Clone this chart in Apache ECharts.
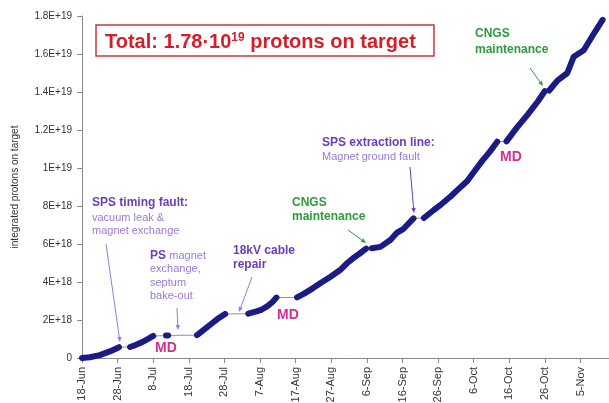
<!DOCTYPE html>
<html>
<head>
<meta charset="utf-8">
<script src="https://cdn.jsdelivr.net/npm/echarts@6/dist/echarts.min.js"></script>
<style>html,body{margin:0;padding:0;background:#fff}#c{width:609px;height:403px}</style>
</head>
<body>
<div id="c"></div>
<script>
// Days since 18-Jun (2008); null marks a break between running periods
const dayOffsets = [
  0, 2.2, 5, 8, 10.4, null,
  13.5, 15, 16.5, 18.2, 20, null,
  23.6, 24.2, null,
  32.3, 34, 36, 38, 40.2, null,
  46.7, 49, 50.5, 52, 53.5, 54.6, null,
  60.4, 62.5, 64.9, 67, 69.7, 72.5, 74.5, 76.2, 78, 79.8, null,
  81.4, 83.8, 86.6, 88.5, 90.3, 93.1, null,
  96, 98.8, 100.5, 103.5, 106, 108.2, 110, 112.5, 114.5, 116.6, null,
  119.2, 122, 125.1, 128, 130, null,
  131.2, 133.5, 136.3, 138.1, 140.9, 143.5, 146.2
];
// Integrated protons on target, in units of 1E18
const potE18 = [
  0, 0.04, 0.15, 0.36, 0.57, null,
  0.58, 0.68, 0.8, 0.97, 1.16, null,
  1.18, 1.19, null,
  1.2, 1.45, 1.75, 2.05, 2.32, null,
  2.33, 2.45, 2.55, 2.72, 2.95, 3.18, null,
  3.19, 3.4, 3.68, 3.95, 4.26, 4.63, 5.0, 5.26, 5.5, 5.76, null,
  5.78, 5.85, 6.21, 6.6, 6.8, 7.35, null,
  7.37, 7.79, 8.03, 8.5, 8.94, 9.32, 9.78, 10.4, 10.85, 11.38, null,
  11.4, 12.1, 12.8, 13.5, 14.05, null,
  14.08, 14.6, 15.0, 15.86, 16.2, 17.0, 17.8
];
const xTickLabels = ['18-Jun','28-Jun','8-Jul','18-Jul','28-Jul','7-Aug','17-Aug','27-Aug','6-Sep','16-Sep','26-Sep','6-Oct','16-Oct','26-Oct','5-Nov'];
const yTickLabels = ['0','2E+18','4E+18','6E+18','8E+18','1E+19','1.2E+19','1.4E+19','1.6E+19','1.8E+19'];

const thickData = [];
const thinData = [];
for (let i = 0; i < dayOffsets.length; i++) {
  if (dayOffsets[i] === null) { thickData.push('-'); continue; }
  const p = [dayOffsets[i], potE18[i] * 1e18];
  thickData.push(p);
  thinData.push(p);
}
const xTickValues = xTickLabels.map((_, i) => i * 10);

const purple = '#6b3db8', lightPurple = '#9a7ad6', green = '#2e9a3a', magenta = '#d6308f';

function arrow(x1, y1, x2, y2, color) {
  const a = Math.atan2(y2 - y1, x2 - x1), L = 5, W = 2.2;
  const bx = x2 - L * Math.cos(a), by = y2 - L * Math.sin(a);
  return [
    { type: 'line', shape: { x1, y1, x2: bx, y2: by }, style: { stroke: color, lineWidth: 1 }, z: 20 },
    { type: 'polygon', shape: { points: [[x2, y2], [bx - W * Math.sin(a), by + W * Math.cos(a)], [bx + W * Math.sin(a), by - W * Math.cos(a)]] }, style: { fill: color }, z: 20 }
  ];
}
function txt(x, y, text, color, size, weight) {
  return { type: 'text', x, y, style: { text, fill: color, font: (weight || 'normal') + ' ' + size + 'px "Liberation Sans", Arial, sans-serif', verticalAlign: 'middle', align: 'left' }, z: 20 };
}

const graphics = [
  { type: 'rect', shape: { x: 96, y: 25, width: 338, height: 31 }, style: { fill: '#fff', stroke: '#c8383c', lineWidth: 1.5 }, z: 20 },
  { type: 'text', x: 105, y: 42, z: 21, style: {
      text: '{m|Total: 1.78·10}{s|19}{m| protons on target}',
      verticalAlign: 'middle', align: 'left',
      rich: {
        m: { fill: '#d21f2b', font: 'bold 20px "Liberation Sans", Arial, sans-serif' },
        s: { fill: '#d21f2b', font: 'bold 12px "Liberation Sans", Arial, sans-serif', verticalAlign: 'top', padding: [0, 0, 8, 0] }
      } } },
  txt(92, 203, 'SPS timing fault:', purple, 12, 'bold'),
  txt(92, 217.5, 'vacuum leak &', lightPurple, 11),
  txt(92, 231, 'magnet exchange', lightPurple, 11),
  { type: 'text', x: 150, y: 256, z: 20, style: { text: '{b|PS} {n|magnet}', verticalAlign: 'middle',
      rich: { b: { fill: purple, font: 'bold 12px "Liberation Sans", Arial, sans-serif' }, n: { fill: lightPurple, font: '11px "Liberation Sans", Arial, sans-serif' } } } },
  txt(150, 269, 'exchange,', lightPurple, 11),
  txt(150, 282.5, 'septum', lightPurple, 11),
  txt(150, 296, 'bake-out', lightPurple, 11),
  txt(233, 251, '18kV cable', purple, 12, 'bold'),
  txt(233, 265, 'repair', purple, 12, 'bold'),
  txt(292, 203, 'CNGS', green, 12, 'bold'),
  txt(292, 217, 'maintenance', green, 12, 'bold'),
  txt(322, 142.5, 'SPS extraction line:', purple, 12, 'bold'),
  txt(322, 157, 'Magnet ground fault', lightPurple, 11),
  txt(475, 34, 'CNGS', green, 12, 'bold'),
  txt(475, 50, 'maintenance', green, 12, 'bold'),
  txt(155, 348, 'MD', magenta, 14, 'bold'),
  txt(277, 315, 'MD', magenta, 14, 'bold'),
  txt(500, 157.5, 'MD', magenta, 14, 'bold'),
  ...arrow(106, 244, 120, 342, lightPurple),
  ...arrow(177, 308, 178, 330, lightPurple),
  ...arrow(252, 277, 239, 312, lightPurple),
  ...arrow(348, 230, 366, 243, green),
  ...arrow(410, 167, 414, 213, purple),
  ...arrow(530, 68, 543, 86, green)
];

const chart = echarts.init(document.getElementById('c'));
chart.setOption({
  animation: false,
  backgroundColor: '#fff',
  grid: { left: 82, right: 0, top: 16, bottom: 45, outerBoundsMode: 'none', containLabel: false },
  xAxis: {
    type: 'value', min: 0, max: 148, interval: 10,
    splitLine: { show: false },
    axisLine: { show: true, lineStyle: { color: '#8a8a8a', width: 1 } },
    axisTick: { show: true, length: 5, lineStyle: { color: '#8a8a8a' }, customValues: xTickValues },
    axisLabel: { rotate: 90, color: '#333', fontSize: 11, fontFamily: 'Liberation Sans, Arial, sans-serif', margin: 9,
      customValues: xTickValues,
      formatter: v => xTickLabels[Math.round(v / 10)] || '' }
  },
  yAxis: {
    type: 'value', min: 0, max: 1.8e19, interval: 2e18,
    name: 'integrated protons on target', nameLocation: 'middle', nameGap: 62, nameRotate: 90,
    nameTextStyle: { color: '#333', fontSize: 10, fontFamily: 'Liberation Sans, Arial, sans-serif' },
    splitLine: { show: false },
    axisLine: { show: true, lineStyle: { color: '#8a8a8a', width: 1 } },
    axisTick: { show: true, length: 5, lineStyle: { color: '#8a8a8a' } },
    axisLabel: { color: '#333', fontSize: 10, fontFamily: 'Liberation Sans, Arial, sans-serif', margin: 10,
      formatter: v => yTickLabels[Math.round(v / 2e18)] }
  },
  series: [
    { type: 'line', data: thinData, showSymbol: false, connectNulls: true, z: 2,
      lineStyle: { color: '#8c8cc8', width: 1 } },
    { type: 'line', data: thickData, showSymbol: false, connectNulls: false, z: 3,
      lineStyle: { color: '#1c1a84', width: 6, cap: 'round', join: 'round' } }
  ],
  graphic: graphics
});
</script>
</body>
</html>
